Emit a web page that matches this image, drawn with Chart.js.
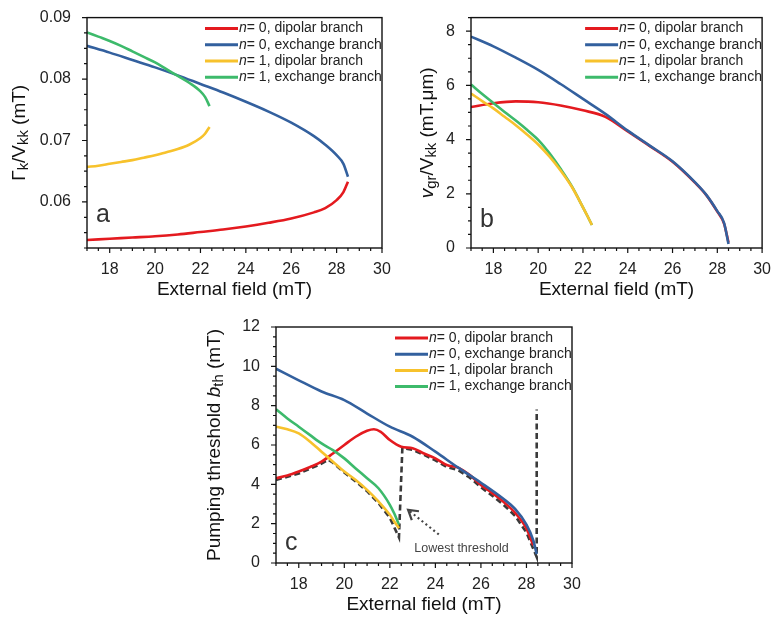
<!DOCTYPE html>
<html>
<head>
<meta charset="utf-8">
<script src="https://cdn.jsdelivr.net/npm/chart.js@4/dist/chart.umd.min.js"></script>
<style>
  body { margin: 0; background: #fff; width: 775px; height: 623px; overflow: hidden; position: relative; }
  canvas { position: absolute; }
</style>
</head>
<body>
<canvas id="chartA" width="400" height="300" style="left:0;top:0"></canvas>
<canvas id="chartB" width="390" height="300" style="left:385px;top:0"></canvas>
<canvas id="chartC" width="400" height="323" style="left:190px;top:300px"></canvas>
<script>
// field values (mT)
const fieldN0 = [17, 18, 19, 20, 21, 22, 23, 24, 25, 26, 27, 27.5, 28, 28.3, 28.5];
const fieldN1 = [17, 17.5, 18, 18.5, 19, 19.5, 20, 20.5, 21, 21.5, 22, 22.2, 22.4];
const xTicks = [18, 20, 22, 24, 26, 28, 30];
const seriesNames = ["n= 0, dipolar branch", "n= 0, exchange branch", "n= 1, dipolar branch", "n= 1, exchange branch"];

// panel a : Gamma_k / V_kk
const aTicks = [0.06, 0.07, 0.08, 0.09];
const aRed = [0.0538, 0.0540, 0.0542, 0.0544, 0.0547, 0.0551, 0.0555, 0.0560, 0.0566, 0.0573, 0.0583, 0.0590, 0.0603, 0.0616, 0.0633];
const aBlue = [0.0854, 0.0843, 0.0831, 0.0819, 0.0806, 0.0792, 0.0778, 0.0763, 0.0747, 0.0729, 0.0707, 0.0693, 0.0676, 0.0662, 0.0641];
const aYellow = [0.0657, 0.0659, 0.0662, 0.0665, 0.0668, 0.0672, 0.0676, 0.0681, 0.0686, 0.0693, 0.0704, 0.0711, 0.0722];
const aGreen = [0.0876, 0.0869, 0.0862, 0.0854, 0.0845, 0.0836, 0.0827, 0.0816, 0.0805, 0.0794, 0.0780, 0.0771, 0.0756];

// panel b : v_gr / V_kk
const bTicks = [0, 2, 4, 6, 8];
const bRed = [5.2, 5.34, 5.41, 5.38, 5.26, 5.08, 4.84, 4.3, 3.75, 3.18, 2.41, 1.96, 1.34, 0.9, 0.2];
const bBlue = [7.8, 7.44, 7.02, 6.57, 6.05, 5.5, 4.95, 4.33, 3.77, 3.2, 2.43, 1.97, 1.36, 0.93, 0.15];
const bYellow = [5.7, 5.42, 5.15, 4.84, 4.53, 4.19, 3.82, 3.38, 2.86, 2.26, 1.5, 1.18, 0.85];
const bGreen = [6.03, 5.68, 5.35, 5.02, 4.7, 4.36, 3.99, 3.5, 2.92, 2.28, 1.5, 1.18, 0.85];

// panel c : pumping threshold
const cTicks = [0, 2, 4, 6, 8, 10, 12];
const cFieldBlue = [17, 18, 19, 20, 21, 22, 23, 24, 25, 26, 27, 27.5, 28, 28.3, 28.45];
const cBlue = [9.88, 9.29, 8.72, 8.28, 7.6, 6.93, 6.42, 5.66, 4.85, 4.08, 3.25, 2.75, 1.95, 1.15, 0.45];
const cFieldRed = [17, 17.5, 18, 18.5, 19, 19.5, 20, 20.5, 21, 21.3, 21.6, 22, 22.5, 23, 23.5, 24, 24.5, 25, 25.5, 26, 26.5, 27, 27.5, 28, 28.3];
const cRed = [4.31, 4.45, 4.65, 4.88, 5.15, 5.57, 6.0, 6.42, 6.72, 6.8, 6.67, 6.25, 5.91, 5.83, 5.57, 5.32, 4.98, 4.85, 4.48, 3.97, 3.55, 3.1, 2.55, 1.75, 0.9];
const cYellow = [6.93, 6.8, 6.59, 6.17, 5.66, 5.15, 4.65, 4.22, 3.72, 3.13, 2.45, 2.1, 1.77];
const cGreen = [7.82, 7.35, 6.93, 6.5, 6.08, 5.74, 5.32, 4.81, 4.31, 3.8, 2.96, 2.5, 1.94];
const cFieldLow = [17, 18, 19, 19.3, 19.5, 20, 20.5, 21, 21.5, 22, 22.4, 22.55, 23, 23.5, 24, 24.5, 25, 25.5, 26, 26.5, 27, 27.5, 28, 28.45, 28.45];
const cLow = [4.22, 4.55, 5.05, 5.25, 5.1, 4.6, 4.15, 3.65, 3.05, 2.3, 1.3, 5.85, 5.75, 5.5, 5.22, 4.88, 4.72, 4.35, 3.85, 3.42, 2.95, 2.4, 1.55, 0.3, 7.8];
const arrowTail = [24.15, 1.45];
const arrowHead = [22.8, 2.7];
const noteAt = [25.15, 0.75];
const noteText = "Lowest threshold";

const colors = ["#e41a1f", "#33609e", "#f7c22c", "#3dba6b"];
const FONT = "'Liberation Sans', Arial, sans-serif";

function pts(xs, ys) {
  return xs.map((x, i) => ({ x: x, y: ys[i] }));
}

function curve(rank, xs, ys) {
  return {
    label: seriesNames[rank], rank: rank, data: pts(xs, ys),
    borderColor: colors[rank], backgroundColor: colors[rank],
    borderWidth: 2.6, pointRadius: 0, cubicInterpolationMode: "monotone", fill: false
  };
}

// draw text made of pieces (italic / subscript)
function richText(ctx, parts, size, cx, cy, rot) {
  ctx.save();
  ctx.translate(cx, cy);
  if (rot) ctx.rotate(-Math.PI / 2);
  ctx.textBaseline = "middle";
  ctx.textAlign = "left";
  let total = 0;
  const fonts = parts.map(p => {
    const s = p.sub ? size * 0.78 : size;
    const f = (p.it ? "italic " : "") + s + "px " + FONT;
    ctx.font = f;
    total += ctx.measureText(p.t).width;
    return f;
  });
  let x = -total / 2;
  parts.forEach((p, i) => {
    ctx.font = fonts[i];
    ctx.fillText(p.t, x, p.sub ? size * 0.22 : 0);
    x += ctx.measureText(p.t).width;
  });
  ctx.restore();
}

const decoPlugin = {
  id: "deco",
  afterDatasetsDraw(chart, args, o) {
    const ctx = chart.ctx, a = chart.chartArea, xs = chart.scales.x, ys = chart.scales.y;
    ctx.save();
    ctx.strokeStyle = "#111";
    ctx.lineWidth = 1.4;
    ctx.strokeRect(a.left, a.top, a.right - a.left, a.bottom - a.top);
    // major + minor ticks
    ctx.lineWidth = 1.2;
    ctx.beginPath();
    for (let v = xs.min; v <= xs.max + 1e-9; v += o.xMinor) {
      const major = Math.abs(v / 2 - Math.round(v / 2)) < 1e-6;
      const px = xs.getPixelForValue(v);
      ctx.moveTo(px, a.bottom);
      ctx.lineTo(px, a.bottom + (major ? 5 : 3));
    }
    const y0 = Math.ceil(ys.min / o.yMinor - 1e-6) * o.yMinor;
    for (let v = y0; v <= ys.max + 1e-9; v += o.yMinor) {
      const major = Math.abs(v / o.yMajor - Math.round(v / o.yMajor)) < 1e-6;
      const py = ys.getPixelForValue(v);
      ctx.moveTo(a.left, py);
      ctx.lineTo(a.left - (major ? 5 : 3), py);
    }
    ctx.stroke();

    // legend, fixed order red, blue, yellow, green
    const items = chart.data.datasets.filter(d => d.rank !== undefined).sort((p, q) => p.rank - q.rank);
    items.forEach((ds, row) => {
      const ly = a.top + 11 + row * 16.2;
      const lx = a.right - 177;
      ctx.strokeStyle = ds.borderColor;
      ctx.lineWidth = 3;
      ctx.beginPath();
      ctx.moveTo(lx, ly);
      ctx.lineTo(lx + 33, ly);
      ctx.stroke();
      ctx.fillStyle = "#222";
      ctx.textBaseline = "middle";
      ctx.textAlign = "left";
      ctx.font = "italic 14px " + FONT;
      ctx.fillText(ds.label[0], lx + 34, ly);
      const w = ctx.measureText(ds.label[0]).width;
      ctx.font = "14px " + FONT;
      ctx.fillText(ds.label.slice(1), lx + 34 + w, ly);
    });

    // panel letter
    ctx.fillStyle = "#333";
    ctx.font = "25px " + FONT;
    ctx.textAlign = "left";
    ctx.textBaseline = "alphabetic";
    ctx.fillText(o.letter, a.left + 9, o.letterY);

    // axis titles
    ctx.fillStyle = "#111";
    richText(ctx, [{ t: "External field (mT)" }], 19, (a.left + a.right) / 2, a.bottom + 42, false);
    richText(ctx, o.yTitle, 19, o.yTitleX, (a.top + a.bottom) / 2, true);

    // annotation for the lowest threshold
    if (o.note) {
      const tx = xs.getPixelForValue(arrowTail[0]), ty = ys.getPixelForValue(arrowTail[1]);
      const hx = xs.getPixelForValue(arrowHead[0]), hy = ys.getPixelForValue(arrowHead[1]);
      ctx.strokeStyle = "#444";
      ctx.lineWidth = 2.2;
      ctx.setLineDash([2, 3]);
      ctx.beginPath();
      ctx.moveTo(tx, ty);
      ctx.lineTo(hx, hy);
      ctx.stroke();
      ctx.setLineDash([]);
      const ang = Math.atan2(hy - ty, hx - tx);
      ctx.beginPath();
      ctx.moveTo(hx - 11 * Math.cos(ang - 0.55), hy - 11 * Math.sin(ang - 0.55));
      ctx.lineTo(hx, hy);
      ctx.lineTo(hx - 11 * Math.cos(ang + 0.55), hy - 11 * Math.sin(ang + 0.55));
      ctx.stroke();
      ctx.fillStyle = "#444";
      ctx.font = "12.5px " + FONT;
      ctx.textAlign = "center";
      ctx.textBaseline = "middle";
      ctx.fillText(noteText, xs.getPixelForValue(noteAt[0]), ys.getPixelForValue(noteAt[1]));
    }
    ctx.restore();
  }
};

function makeChart(id, datasets, y, deco, pad, xHeight) {
  return new Chart(document.getElementById(id), {
    type: "line",
    data: { datasets: datasets },
    plugins: [decoPlugin],
    options: {
      responsive: false,
      animation: false,
      layout: { padding: pad },
      plugins: { legend: { display: false }, tooltip: { enabled: false }, deco: deco },
      scales: {
        x: {
          type: "linear", min: 17, max: 30,
          grid: { display: false }, border: { display: false },
          afterBuildTicks: s => { s.ticks = xTicks.map(v => ({ value: v })); },
          afterFit: s => { s.height = xHeight; },
          ticks: { padding: 4, color: "#222", font: { family: FONT, size: 16 } }
        },
        y: {
          type: "linear", min: y.min, max: y.max,
          grid: { display: false }, border: { display: false },
          afterBuildTicks: s => { s.ticks = y.ticks.map(v => ({ value: v })); },
          afterFit: s => { s.width = y.width; },
          ticks: { padding: 8, color: "#222", font: { family: FONT, size: 16 }, callback: y.fmt }
        }
      }
    }
  });
}

// drawing order: yellow, green, blue, red
function panelSets(xsBlue, r, b, yel, g, xsRed) {
  return [
    curve(2, fieldN1, yel),
    curve(3, fieldN1, g),
    curve(1, xsBlue, b),
    curve(0, xsRed || xsBlue, r)
  ];
}

const setsA = panelSets(fieldN0, aRed, aBlue, aYellow, aGreen);
const setsB = panelSets(fieldN0, bRed, bBlue, bYellow, bGreen);
const setsC = panelSets(cFieldBlue, cRed, cBlue, cYellow, cGreen, cFieldRed);
setsC.push({
  label: "lowest", data: pts(cFieldLow, cLow), borderColor: "#3a3a3a", borderWidth: 2.6,
  borderDash: [6, 3.5], pointRadius: 0, tension: 0, fill: false
});

makeChart("chartA", setsA,
  { min: 0.0525, max: 0.09, ticks: aTicks, width: 87, fmt: v => v.toFixed(2) },
  { letter: "a", letterY: 222, xMinor: 0.5, yMinor: 0.0025, yMajor: 0.01, yTitleX: 20,
    yTitle: [{ t: "Γ" }, { t: "k", sub: true }, { t: "/V" }, { t: "kk", sub: true }, { t: " (mT)" }] },
  { top: 12, right: 18, left: 0, bottom: 0 }, 52);

makeChart("chartB", setsB,
  { min: 0, max: 8.5, ticks: bTicks, width: 86, fmt: v => String(v) },
  { letter: "b", letterY: 227, xMinor: 0.5, yMinor: 0.5, yMajor: 2, yTitleX: 43,
    yTitle: [{ t: "v", it: true }, { t: "gr", sub: true }, { t: "/V" }, { t: "kk", sub: true }, { t: " (mT.μm)" }] },
  { top: 12, right: 7, left: 0, bottom: 0 }, 52);

makeChart("chartC", setsC,
  { min: 0, max: 12, ticks: cTicks, width: 86, fmt: v => String(v) },
  { letter: "c", letterY: 250, xMinor: 0.5, yMinor: 0.5, yMajor: 2, yTitleX: 25, note: true,
    yTitle: [{ t: "Pumping threshold " }, { t: "b", it: true }, { t: "th", sub: true }, { t: " (mT)" }] },
  { top: 27, right: 18, left: 0, bottom: 0 }, 60);
</script>
</body>
</html>
